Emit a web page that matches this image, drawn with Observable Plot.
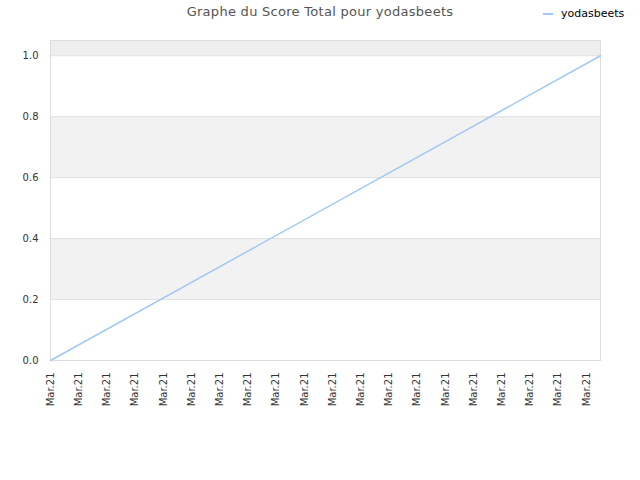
<!DOCTYPE html>
<html>
<head>
<meta charset="utf-8">
<script src="https://cdn.jsdelivr.net/npm/d3@7"></script>
<script src="https://cdn.jsdelivr.net/npm/@observablehq/plot@0.6"></script>
<style>
  html, body { margin: 0; padding: 0; background: #fff; }
  #wrap { position: relative; width: 640px; height: 480px; font-family: "DejaVu Sans", sans-serif; }
  #title { position: absolute; top: 4px; left: 0; width: 640px; text-align: center; font-size: 13px; color: #555; letter-spacing: 0.28px; }
  #legend { position: absolute; top: 7px; left: 543px; font-size: 11px; color: #000; display: flex; align-items: center; }
  #legend .sw { width: 10px; height: 2px; background: #a0c8f5; margin-right: 8px; }
  #chart { position: absolute; top: 0; left: 0; }
</style>
</head>
<body>
<div id="wrap">
  <div id="chart"></div>
  <div id="title">Graphe du Score Total pour yodasbeets</div>
  <div id="legend"><span class="sw"></span><span>yodasbeets</span></div>
</div>
<script>
// Data
const seriesName = "yodasbeets";
const xIndex = [0, 19.5];          // time positions of the series points
const scores = [0, 1];             // Score Total
const xTickPositions = d3.range(20);
const xTickLabels = xTickPositions.map(() => "Mar.21");
const yTicks = [0, 0.2, 0.4, 0.6, 0.8, 1.0];
const bandStart = [0.2, 0.6, 1.0];
const bandEnd = [0.4, 0.8, 1.05];
const bandFill = ["#f2f2f2", "#f2f2f2", "#eeeeee"];

const lineData = xIndex.map((x, i) => ({x, y: scores[i]}));
const bands = bandStart.map((s, i) => ({y1: s, y2: bandEnd[i], fill: bandFill[i]}));

const chart = Plot.plot({
  width: 640,
  height: 480,
  marginTop: 40,
  marginBottom: 120,
  marginLeft: 50,
  marginRight: 40,
  style: { fontFamily: "DejaVu Sans, sans-serif", fontSize: "10px", color: "#333", background: "transparent" },
  x: { domain: [0, 19.5], ticks: xTickPositions, tickFormat: (d) => xTickLabels[d] },
  y: { domain: [0, 1.05], ticks: yTicks, tickFormat: d3.format(".1f") },
  marks: [
    Plot.rectY(bands, { x1: 0, x2: 19.5, y1: "y1", y2: "y2", fill: "fill" }),
    Plot.ruleY(yTicks, { stroke: "#e0e0e0" }),
    Plot.frame({ stroke: "#dddddd" }),
    Plot.axisY({ ticks: yTicks, tickSize: 0, tickPadding: 12, tickFormat: d3.format(".1f"), label: null, fill: "#333" }),
    Plot.axisX({ ticks: xTickPositions, tickSize: 0, tickPadding: 12, tickRotate: -90, tickFormat: (d) => xTickLabels[d], label: null, fill: "#333" }),
    Plot.line(lineData, { x: "x", y: "y", stroke: "#a0c8f5", strokeWidth: 1.5 })
  ]
});
document.getElementById("chart").appendChild(chart);
</script>
</body>
</html>
